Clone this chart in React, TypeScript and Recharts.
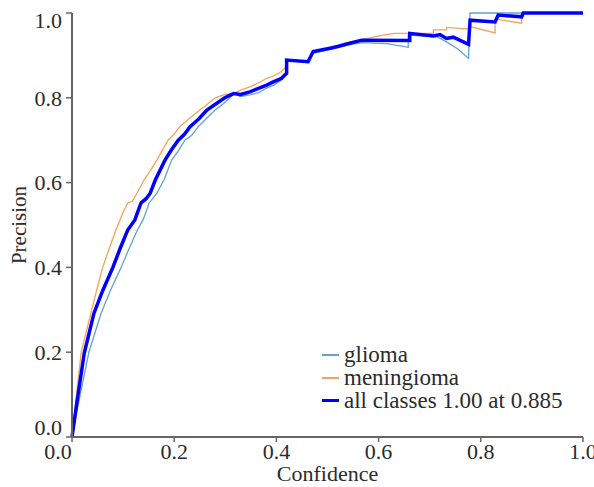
import { LineChart, Line, XAxis, YAxis } from "recharts";

// precision-confidence curves, [confidence, precision]
const glioma: [number, number][] = [
  [0, 0], [0.012, 0.075], [0.033, 0.2], [0.057, 0.292], [0.075, 0.345], [0.096, 0.4],
  [0.112, 0.445], [0.128, 0.488], [0.14, 0.515], [0.151, 0.552], [0.166, 0.575],
  [0.18, 0.606], [0.195, 0.653], [0.208, 0.675], [0.221, 0.7], [0.235, 0.712],
  [0.247, 0.732], [0.262, 0.75], [0.28, 0.771], [0.295, 0.785], [0.309, 0.8],
  [0.316, 0.81], [0.33, 0.803], [0.348, 0.807], [0.365, 0.812], [0.381, 0.823],
  [0.395, 0.83], [0.41, 0.842], [0.42, 0.855], [0.42, 0.889], [0.462, 0.883],
  [0.472, 0.905], [0.505, 0.914], [0.538, 0.924], [0.567, 0.93], [0.616, 0.928],
  [0.658, 0.919], [0.658, 0.948], [0.714, 0.944], [0.733, 0.932], [0.755, 0.915],
  [0.776, 0.893], [0.779, 1.0], [1.0, 1.0],
];

const meningioma: [number, number][] = [
  [0, 0], [0.008, 0.09], [0.018, 0.2], [0.037, 0.292], [0.048, 0.345], [0.06, 0.4],
  [0.073, 0.445], [0.086, 0.488], [0.1, 0.53], [0.109, 0.552], [0.118, 0.556],
  [0.127, 0.575], [0.141, 0.606], [0.155, 0.632], [0.166, 0.653], [0.188, 0.7],
  [0.2, 0.715], [0.211, 0.732], [0.23, 0.752], [0.25, 0.771], [0.265, 0.785],
  [0.28, 0.8], [0.3, 0.808], [0.316, 0.81], [0.33, 0.818], [0.348, 0.826],
  [0.365, 0.835], [0.381, 0.846], [0.395, 0.852], [0.41, 0.862], [0.42, 0.875],
  [0.42, 0.889], [0.462, 0.887], [0.472, 0.91], [0.505, 0.918], [0.538, 0.93],
  [0.567, 0.937], [0.609, 0.948], [0.63, 0.952], [0.707, 0.952], [0.707, 0.96],
  [0.733, 0.96], [0.733, 0.966], [0.776, 0.962], [0.779, 0.968], [0.828, 0.953],
  [0.828, 0.986], [0.88, 0.976], [0.88, 1.0], [1.0, 1.0],
];

const allClasses: [number, number][] = [
  [0, 0], [0.01, 0.085], [0.024, 0.198], [0.043, 0.292], [0.06, 0.345], [0.08, 0.4],
  [0.095, 0.447], [0.109, 0.488], [0.123, 0.512], [0.135, 0.552], [0.145, 0.562],
  [0.153, 0.575], [0.163, 0.606], [0.182, 0.653], [0.195, 0.678], [0.208, 0.7],
  [0.22, 0.714], [0.231, 0.732], [0.248, 0.75], [0.264, 0.771], [0.282, 0.786],
  [0.299, 0.8], [0.316, 0.81], [0.33, 0.808], [0.348, 0.814], [0.365, 0.822],
  [0.381, 0.83], [0.395, 0.838], [0.41, 0.846], [0.42, 0.858], [0.42, 0.889],
  [0.462, 0.885], [0.472, 0.909], [0.505, 0.917], [0.52, 0.921], [0.538, 0.927],
  [0.567, 0.936], [0.661, 0.935], [0.661, 0.952], [0.707, 0.946], [0.72, 0.949],
  [0.733, 0.94], [0.746, 0.943], [0.776, 0.926], [0.779, 0.983], [0.828, 0.979],
  [0.834, 0.995], [0.88, 0.991], [0.883, 1.0], [1.0, 1.0],
];

const ticks = [0, 0.2, 0.4, 0.6, 0.8, 1.0];

const series = [
  { name: "glioma", points: glioma, color: "#62a2cf", width: 1.3 },
  { name: "meningioma", points: meningioma, color: "#f6a15c", width: 1.3 },
  { name: "all classes 1.00 at 0.885", points: allClasses, color: "#0000ff", width: 3.5 },
];

const FONT = "'Liberation Serif', 'DejaVu Serif', serif";
const TEXT = "#2b2b2b";

const toRows = (pts: [number, number][]) => pts.map(([x, y]) => ({ x, y }));

function YTick(props: any) {
  const { x, y, payload } = props;
  const v = payload.value;
  const dy = v === 0 ? -10 : v === 1 ? 7 : 0;
  return (
    <text x={x} y={y + dy} dy="0.35em" textAnchor="end" fontFamily={FONT} fontSize={22} fill={TEXT}>
      {v.toFixed(1)}
    </text>
  );
}

function XTick(props: any) {
  const { x, y, payload } = props;
  const v = payload.value;
  const dx = v === 0 ? -14 : 0;
  return (
    <text x={x + dx} y={y} dy="0.71em" textAnchor="middle" fontFamily={FONT} fontSize={22} fill={TEXT}>
      {v.toFixed(1)}
    </text>
  );
}

function YLabel(props: any) {
  const { viewBox } = props;
  const cx = viewBox.x + 20;
  const cy = viewBox.y + viewBox.height / 2;
  return (
    <text
      x={cx}
      y={cy}
      transform={`rotate(-90 ${cx} ${cy})`}
      textAnchor="middle"
      dy="0.3em"
      fontFamily={FONT}
      fontSize={21}
      fill={TEXT}
    >
      Precision
    </text>
  );
}

function LegendBox() {
  return (
    <div
      style={{
        position: "absolute",
        left: 322,
        top: 343,
        fontFamily: FONT,
        fontSize: 23,
        color: TEXT,
        lineHeight: "23px",
      }}
    >
      {series.map((s) => (
        <div key={s.name} style={{ display: "flex", alignItems: "center", whiteSpace: "nowrap" }}>
          <span
            style={{
              display: "inline-block",
              width: 17,
              height: s.width > 2 ? 3.5 : 2,
              background: s.color,
              marginRight: 5,
            }}
          />
          <span>{s.name}</span>
        </div>
      ))}
    </div>
  );
}

export default function App() {
  return (
    <div style={{ position: "absolute", left: 0, top: 0, width: 594, height: 487, background: "#fff" }}>
      <LineChart width={594} height={487} margin={{ top: 13, right: 11, bottom: 0, left: 0 }}>
        <XAxis
          dataKey="x"
          type="number"
          domain={[0, 1]}
          ticks={ticks}
          height={50}
          tickSize={5}
          tickMargin={1}
          tick={<XTick />}
          axisLine={{ stroke: "#666", strokeWidth: 2 }}
          tickLine={{ stroke: "#666", strokeWidth: 1.5 }}
          label={{
            value: "Confidence",
            position: "insideBottom",
            offset: 6,
            fontFamily: FONT,
            fontSize: 22,
            fill: TEXT,
          }}
        />
        <XAxis
          xAxisId="top"
          orientation="top"
          type="number"
          domain={[0, 1]}
          height={0}
          tick={false}
          tickLine={false}
          axisLine={{ stroke: "#999", strokeWidth: 1.5 }}
        />
        <YAxis
          type="number"
          domain={[0, 1]}
          ticks={ticks}
          width={72}
          tickSize={6}
          tickMargin={4}
          tick={<YTick />}
          axisLine={{ stroke: "#666", strokeWidth: 2 }}
          tickLine={{ stroke: "#666", strokeWidth: 1.5 }}
          label={<YLabel />}
        />
        <YAxis
          yAxisId="right"
          orientation="right"
          type="number"
          domain={[0, 1]}
          width={0}
          tick={false}
          tickLine={false}
          axisLine={{ stroke: "#888", strokeWidth: 1.5 }}
        />
        {series.map((s) => (
          <Line
            key={s.name}
            data={toRows(s.points)}
            dataKey="y"
            name={s.name}
            type="linear"
            stroke={s.color}
            strokeWidth={s.width}
            dot={false}
            activeDot={false}
            isAnimationActive={false}
          />
        ))}
      </LineChart>
      <LegendBox />
    </div>
  );
}
